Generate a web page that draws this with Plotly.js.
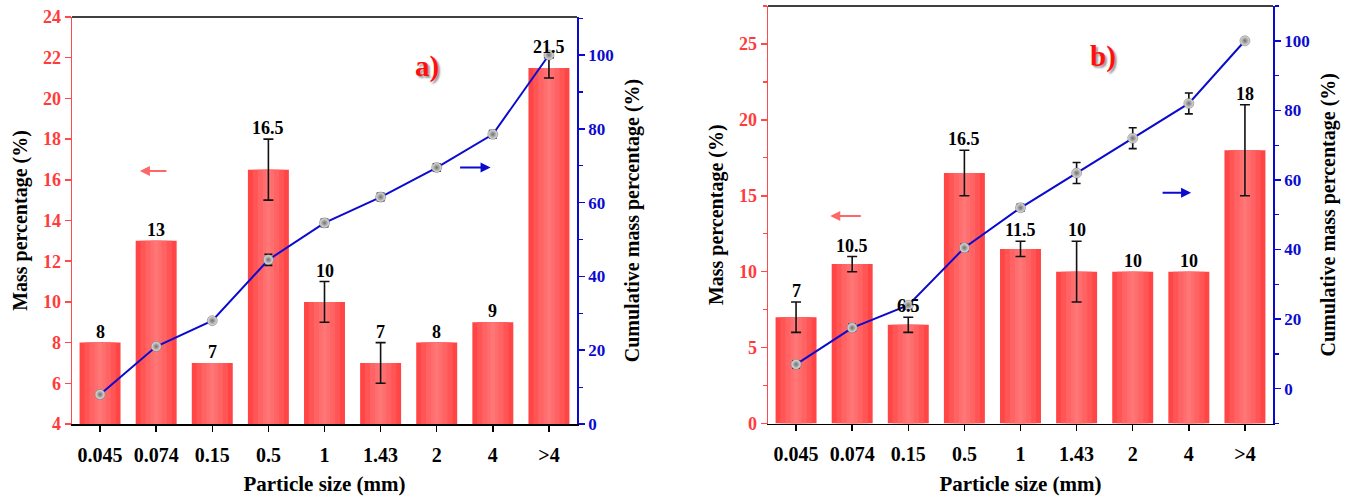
<!DOCTYPE html>
<html>
<head>
<meta charset="utf-8">
<script src="https://cdn.plot.ly/plotly-3.0.1.min.js"></script>
<style>html,body{margin:0;padding:0;background:#fff;}#chart{width:1357px;height:496px;}</style>
</head>
<body>
<div id="chart"></div>
<script>
// ---- data ----
const categories = ["0.045", "0.074", "0.15", "0.5", "1", "1.43", "2", "4", ">4"];

const massA = [8, 13, 7, 16.5, 10, 7, 8, 9, 21.5];
const massErrA = [0, 0, 0, 1.5, 1, 1, 0, 0, 0.5];
const cumA = [8, 21, 28, 44.5, 54.5, 61.5, 69.5, 78.5, 100];
const cumErrA = [0, 0, 0, 1.5, 1, 1, 1, 1, 0];

const massB = [7, 10.5, 6.5, 16.5, 11.5, 10, 10, 10, 18];
const massErrB = [1, 0.5, 0.5, 1.5, 0.5, 2, 0, 0, 3];
const cumB = [7, 17.5, 24, 40.5, 52, 62, 72, 82, 100];
const cumErrB = [1, 1, 1, 1, 1, 3, 3, 3, 0];

const leftTicksA = [4, 6, 8, 10, 12, 14, 16, 18, 20, 22, 24];
const leftTicksB = [0, 5, 10, 15, 20, 25];
const rightTicksA = [0, 20, 40, 60, 80, 100];
const rightTicksB = [0, 20, 40, 60, 80, 100];

// ---- styles ----
const SERIF = '"Liberation Serif", "Times New Roman", serif';
const RED = "#ff4a4a";
const BLUE = "#0b0bd0";
const barLayers = [
  {w: 0.73, c: "#ff4545"},
  {w: 0.56, c: "#ff5555"},
  {w: 0.38, c: "#ff6363"},
  {w: 0.2, c: "#ff6e6e"},
  {w: 0.08, c: "#ff7676"}
];

function errTrace(vals, errs, xa, ya, capw) {
  const idx = errs.map((e, i) => (e > 0 ? i : -1)).filter(i => i >= 0);
  return {
    type: "scatter", mode: "markers", xaxis: xa, yaxis: ya,
    x: idx.map(i => categories[i]), y: idx.map(i => vals[i]),
    marker: {size: 1, opacity: 0},
    error_y: {type: "data", array: idx.map(i => errs[i]), visible: true, color: "#111", thickness: 1.6, width: capw},
    hoverinfo: "skip", showlegend: false
  };
}

function barTraces(vals, errs, xa, ya) {
  const t = barLayers.map(L => ({
    type: "bar", x: categories, y: vals, xaxis: xa, yaxis: ya,
    width: categories.map(() => L.w),
    marker: {color: L.c, line: {width: 0}},
    hoverinfo: "skip", showlegend: false
  }));
  t.push(errTrace(vals, errs, xa, ya, 5));
  return t;
}

function cumTraces(vals, errs, xa, ya) {
  return [
    errTrace(vals, errs, xa, ya, 4),
    {
      type: "scatter", mode: "lines+markers", x: categories, y: vals, xaxis: xa, yaxis: ya,
      line: {color: BLUE, width: 2},
      marker: {size: 10, color: "#e6e6e6", gradient: {type: "radial", color: "#6e6e6e"}, line: {color: "#666", width: 0.5}},
      hoverinfo: "skip", showlegend: false
    }
  ];
}

const data = [].concat(
  barTraces(massA, massErrA, "x", "y"),
  cumTraces(cumA, cumErrA, "x", "y2"),
  barTraces(massB, massErrB, "x2", "y3"),
  cumTraces(cumB, cumErrB, "x2", "y4")
);

function labelAnns(vals, errs, xref, yref) {
  return vals.map((v, i) => ({
    x: i, y: v + errs[i], xref: xref, yref: yref,
    text: String(v), showarrow: false, yanchor: "bottom", yshift: -1,
    font: {family: SERIF, size: 18, color: "#000", weight: "bold"}
  }));
}

const W = 1357, H = 496;
const xdomA = [72 / W, 577 / W];
const ydomA = [(H - 424) / H, (H - 17) / H];
const xdomB = [768 / W, 1273 / W];
const ydomB = [(H - 423.5) / H, (H - 6) / H];

const tickFontBlack = {family: SERIF, size: 20, color: "#000", weight: "bold"};
const xTitleFont = {family: SERIF, size: 21, color: "#000", weight: "bold"};
const yTitleFont = {family: SERIF, size: 20, color: "#000", weight: "bold"};

function xAxis(dom, anchor) {
  return {
    domain: dom, anchor: anchor, type: "category", range: [-0.5, 8.5],
    showline: true, linecolor: "#000", linewidth: 1.5,
    ticks: "outside", ticklen: 6, tickwidth: 1.5, tickcolor: "#000",
    tickfont: tickFontBlack, ticklabelstandoff: 6,
    showgrid: false, zeroline: false, fixedrange: true,
    title: {text: "Particle size (mm)", font: xTitleFont, standoff: 16}
  };
}
function leftAxis(dom, anchor, range, ticks, minorDt) {
  const ax = {
    domain: dom, anchor: anchor, range: range, tickvals: ticks,
    showline: true, linecolor: RED, linewidth: 1.5,
    ticks: "outside", ticklen: 6, tickwidth: 1.5, tickcolor: RED,
    tickfont: {family: SERIF, size: 18, color: "#ff3b3b", weight: "bold"},
    showgrid: false, zeroline: false, fixedrange: true,
    title: {text: "Mass percentage (%)", font: yTitleFont, standoff: 10}
  };
  if (minorDt) ax.minor = {dtick: minorDt, ticks: "outside", ticklen: 4, tickcolor: RED, tickwidth: 1.2};
  return ax;
}
function rightAxis(over, anchor, range, ticks) {
  return {
    overlaying: over, anchor: anchor, side: "right", range: range, tickvals: ticks,
    showline: true, linecolor: BLUE, linewidth: 1.8,
    ticks: "outside", ticklen: 6, tickwidth: 1.5, tickcolor: BLUE,
    minor: {dtick: 10, ticks: "outside", ticklen: 4, tickcolor: BLUE, tickwidth: 1.2},
    tickfont: {family: SERIF, size: 17, color: BLUE, weight: "bold"},
    showgrid: false, zeroline: false, fixedrange: true,
    title: {text: "Cumulative mass percentage (%)", font: yTitleFont, standoff: 12}
  };
}

const arrowA = [
  {x: 0.71, y: 16.43, xref: "x", yref: "y", ax: 28, ay: 0, showarrow: true, arrowhead: 2, arrowsize: 1, arrowwidth: 2, arrowcolor: "#ff6666", text: ""},
  {x: 6.96, y: 69.5, xref: "x", yref: "y2", ax: -32, ay: 0, showarrow: true, arrowhead: 2, arrowsize: 1, arrowwidth: 2, arrowcolor: BLUE, text: ""}
];
const arrowB = [
  {x: 0.61, y: 13.67, xref: "x2", yref: "y3", ax: 32, ay: 0, showarrow: true, arrowhead: 2, arrowsize: 1, arrowwidth: 2, arrowcolor: "#ff6666", text: ""},
  {x: 7.04, y: 56.3, xref: "x2", yref: "y4", ax: -30, ay: 0, showarrow: true, arrowhead: 2, arrowsize: 1, arrowwidth: 2, arrowcolor: BLUE, text: ""}
];
const panelLabels = [
  {x: 413 / W, y: (H - 48) / H, xref: "paper", yref: "paper", text: "a)", showarrow: false,
   font: {family: SERIF, size: 29, color: "#ff1010", weight: "bold", shadow: "2px 2px 2px #999"}},
  {x: 1118 / W, y: (H - 38) / H, xref: "paper", yref: "paper", text: "b)", showarrow: false,
   font: {family: SERIF, size: 29, color: "#ff1010", weight: "bold", shadow: "2px 2px 2px #999"}}
];

const layout = {
  width: W, height: H,
  margin: {l: 0, r: 0, t: 0, b: 0},
  font: {family: SERIF, color: "#000"},
  paper_bgcolor: "#fff", plot_bgcolor: "rgba(0,0,0,0)",
  barmode: "overlay", showlegend: false,
  xaxis: xAxis(xdomA, "y"),
  yaxis: leftAxis(ydomA, "x", [4, 24], leftTicksA, null),
  yaxis2: rightAxis("y", "x", [0, 110.3], rightTicksA),
  xaxis2: xAxis(xdomB, "y3"),
  yaxis3: leftAxis(ydomB, "x2", [0, 27.5], leftTicksB, 2.5),
  yaxis4: rightAxis("y3", "x2", [-10, 110], rightTicksB),
  shapes: [
    {type: "line", xref: "x domain", yref: "y domain", x0: 0, x1: 1, y0: 1, y1: 1, line: {color: "#000", width: 1.5}},
    {type: "line", xref: "x2 domain", yref: "y3 domain", x0: 0, x1: 1, y0: 1, y1: 1, line: {color: "#000", width: 1.5}}
  ],
  annotations: [].concat(
    labelAnns(massA, massErrA, "x", "y"),
    labelAnns(massB, massErrB, "x2", "y3"),
    arrowA, arrowB, panelLabels
  )
};

Plotly.newPlot("chart", data, layout, {staticPlot: true, displayModeBar: false});
</script>
</body>
</html>
